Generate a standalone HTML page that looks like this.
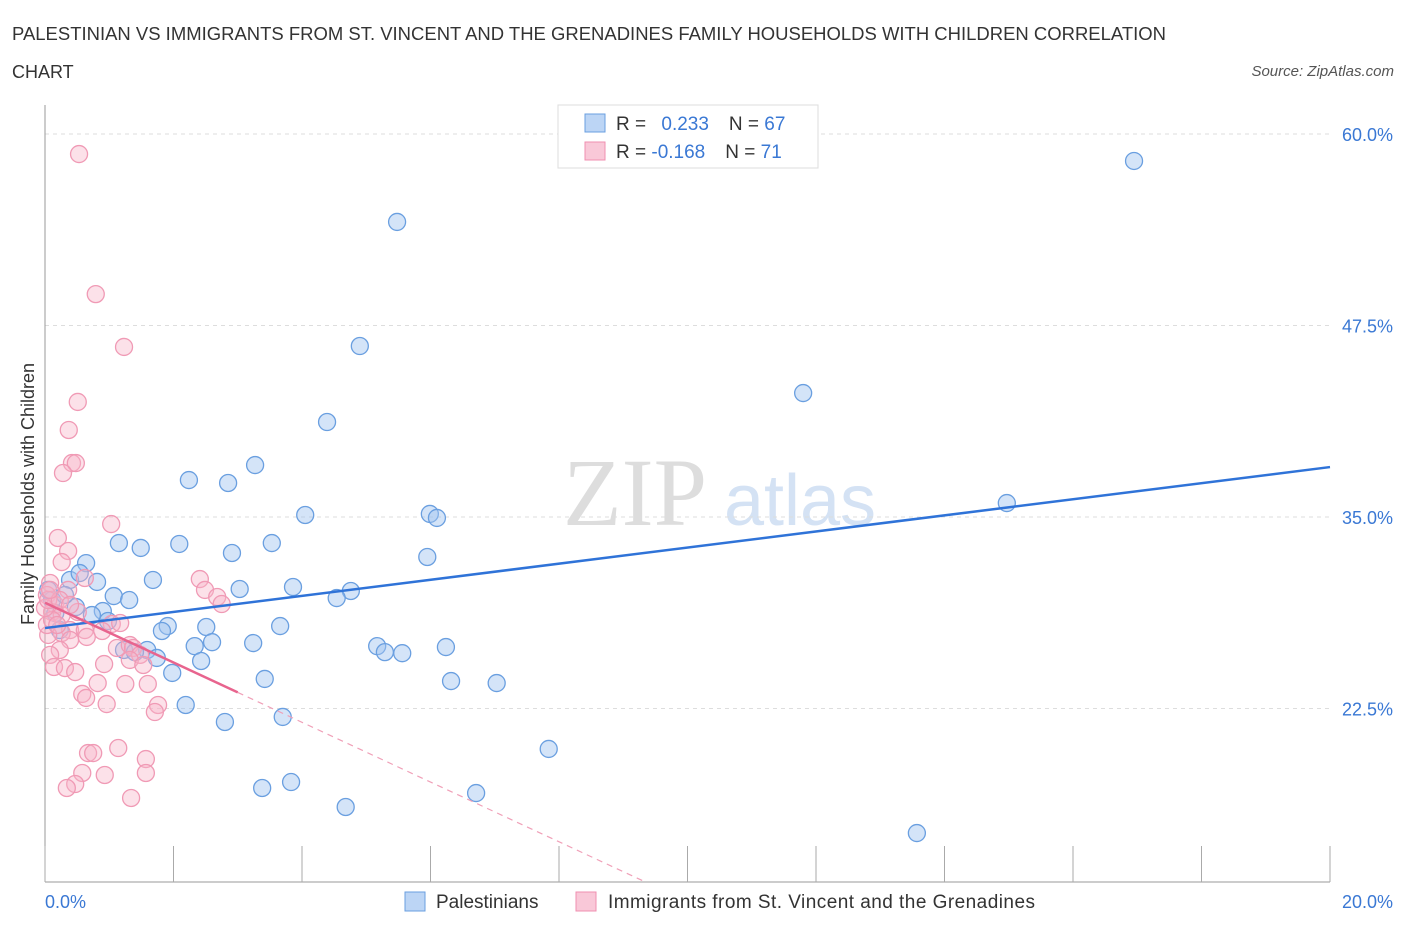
<!DOCTYPE html>
<html><head><meta charset="utf-8"><style>
body{margin:0;background:#fff;font-family:"Liberation Sans",sans-serif}
</style></head><body>
<svg id="c" width="1406" height="930" xmlns="http://www.w3.org/2000/svg" font-family="Liberation Sans, sans-serif">
<text x="12" y="40" font-size="18" fill="#333" textLength="1154" lengthAdjust="spacingAndGlyphs">PALESTINIAN VS IMMIGRANTS FROM ST. VINCENT AND THE GRENADINES FAMILY HOUSEHOLDS WITH CHILDREN CORRELATION</text>
<text x="12" y="78" font-size="18" fill="#333">CHART</text>
<text x="1394" y="76" font-size="15" fill="#555" font-style="italic" text-anchor="end">Source: ZipAtlas.com</text>
<text x="635" y="525" font-size="96" fill="#ddd" font-family="Liberation Serif, serif" text-anchor="middle">ZIP</text>
<text x="800" y="525" font-size="72" fill="#d4e2f4" text-anchor="middle">atlas</text>
<g id="grid"></g><g id="axes"></g><g id="pts"></g><g id="lines"></g>
<text transform="translate(34,494) rotate(-90)" font-size="18" fill="#333" text-anchor="middle">Family Households with Children</text>
<text x="45" y="908" font-size="18" fill="#3a78d4">0.0%</text>
<text x="1393" y="908" font-size="18" fill="#3a78d4" text-anchor="end">20.0%</text>
<g>
<rect x="558" y="105" width="260" height="63" fill="#fff" stroke="#ddd"/>
<rect x="585" y="114" width="20" height="18" fill="#bcd5f5" stroke="#6a9fe0"/>
<rect x="585" y="142" width="20" height="18" fill="#f9c8d8" stroke="#f08fb0"/>
<text x="616" y="130" font-size="19" fill="#333">R = <tspan fill="#3a78d4" dx="10">0.233</tspan><tspan dx="20" fill="#333">N = </tspan><tspan fill="#3a78d4">67</tspan></text>
<text x="616" y="158" font-size="19" fill="#333">R = <tspan fill="#3a78d4">-0.168</tspan><tspan dx="20" fill="#333">N = </tspan><tspan fill="#3a78d4"> 71</tspan></text>
</g>
<g>
<rect x="405" y="892" width="20" height="19" fill="#bcd5f5" stroke="#6a9fe0"/>
<text x="436" y="908" font-size="19" fill="#333">Palestinians</text>
<rect x="576" y="892" width="20" height="19" fill="#f9c8d8" stroke="#f08fb0"/>
<text x="608" y="908" font-size="19" fill="#333" textLength="427">Immigrants from St. Vincent and the Grenadines</text>
</g>
</svg>
<script>
const yTicks=[60,47.5,35,22.5];
const yTickLabels=["60.0%","47.5%","35.0%","22.5%"];
const xTicks=[0,2,4,6,8,10,12,14,16,18,20];
const blueX=[16.95,5.48,4.90,11.80,4.39,3.27,2.24,2.85,14.97,4.05,5.99,6.10,1.15,1.49,2.09,3.53,2.91,5.95,0.64,0.39,0.54,0.81,1.68,3.03,3.86,4.76,4.54,1.07,1.31,0.48,0.90,0.73,0.98,1.91,1.82,2.51,3.66,2.60,2.33,3.24,5.17,5.29,5.56,6.24,1.23,1.59,1.40,1.74,2.43,1.98,3.42,6.32,7.03,2.19,3.70,2.80,7.84,3.38,3.83,4.68,6.71,13.57,0.23,0.16,0.11,0.05,0.31];
const blueY=[58.24,54.26,46.16,43.09,41.20,38.39,37.41,37.22,35.91,35.13,35.20,34.94,33.30,32.98,33.24,33.30,32.65,32.39,31.99,30.89,31.34,30.76,30.89,30.30,30.43,30.17,29.71,29.84,29.58,29.12,28.86,28.60,28.21,27.88,27.56,27.82,27.88,26.83,26.57,26.77,26.57,26.18,26.11,26.51,26.32,26.32,26.18,25.80,25.60,24.82,24.43,24.29,24.16,22.73,21.95,21.62,19.86,17.31,17.70,16.07,16.98,14.37,27.62,28.73,29.58,30.24,29.91];
const pinkX=[0.53,0.79,1.23,0.51,0.37,0.42,0.48,0.28,1.03,0.20,0.36,0.26,0.08,0.62,2.41,0.03,0.16,2.49,0.36,2.68,2.75,0.11,0.26,0.51,1.04,1.17,0.39,0.62,0.26,0.05,0.89,0.65,0.39,1.12,1.32,1.37,0.23,0.08,1.48,1.32,1.53,0.92,0.14,0.31,0.47,0.82,1.25,1.60,0.58,0.64,0.96,1.76,1.71,0.67,0.75,1.14,1.57,0.58,0.93,1.57,0.47,0.34,1.34,0.03,0.11,0.19,0.0,0.05,0.23,0.08,0.39];
const pinkY=[58.69,49.55,46.10,42.51,40.68,38.52,38.52,37.87,34.54,33.63,32.78,32.06,30.69,31.02,30.95,29.91,29.26,30.24,30.24,29.78,29.32,28.80,28.60,28.80,28.02,28.08,27.62,27.62,27.43,27.30,27.56,27.17,26.97,26.45,26.64,26.45,26.32,26.00,26.00,25.67,25.34,25.40,25.21,25.14,24.88,24.16,24.10,24.10,23.45,23.19,22.79,22.73,22.27,19.59,19.59,19.92,19.20,18.29,18.16,18.29,17.57,17.31,16.66,27.95,28.28,27.95,29.06,29.58,29.58,30.24,29.26];
const blueTrend=[27.75,0.5255];
const pinkTrend=[29.4,-1.95,3.0];
const X0=45,X1=1330,YT=134,YB=882;
const sx=v=>X0+v/20*(X1-X0);
const sy=v=>YT+(60-v)*15.32;
const yMin=60-(YB-YT)/15.32;
const NS="http://www.w3.org/2000/svg";
function mk(p,t,a){const e=document.createElementNS(NS,t);for(const k in a)e.setAttribute(k,a[k]);p.appendChild(e);return e;}
const g=document.getElementById('grid'),ax=document.getElementById('axes'),pts=document.getElementById('pts'),ln=document.getElementById('lines');
yTicks.forEach((t,i)=>{
 const l=mk(g,'line',{x1:X0,x2:X1,y1:sy(t),y2:sy(t),stroke:'#ddd','stroke-dasharray':'4,4'});
 
 
 const tx=mk(g,'text',{x:1393,y:sy(t)+7,'font-size':18,fill:'#3a78d4','text-anchor':'end'});
 tx.textContent=yTickLabels[i];
 
 
});
const yax=mk(ax,'line',{x1:X0,x2:X0,y1:105,y2:YB,stroke:'#999'});


const xax=mk(ax,'line',{x1:X0,x2:X1,y1:YB,y2:YB,stroke:'#999'});


xTicks.forEach(t=>{
 const l=mk(ax,'line',{x1:sx(t),x2:sx(t),y1:YB-36,y2:YB,stroke:'#aaa'});
 
 
});
blueX.forEach((x,i)=>{
 const c=mk(pts,'circle',{cx:sx(x),cy:sy(blueY[i]),r:8.5,fill:'rgba(160,195,240,0.45)',stroke:'#6a9fe0','stroke-width':1.3});
 
 
});
pinkX.forEach((x,i)=>{
 const c=mk(pts,'circle',{cx:sx(x),cy:sy(pinkY[i]),r:8.5,fill:'rgba(248,180,200,0.4)',stroke:'#f09ab5','stroke-width':1.3});
 
 
});
const bl=mk(ln,'line',{x1:sx(0),y1:sy(blueTrend[0]),x2:sx(20),y2:sy(blueTrend[0]+20*blueTrend[1]),stroke:'#2f73d8','stroke-width':2.5});


const pe=pinkTrend[2],py=x=>pinkTrend[0]+pinkTrend[1]*x;
const pl=mk(ln,'line',{x1:sx(0),y1:sy(py(0)),x2:sx(pe),y2:sy(py(pe)),stroke:'#e8648e','stroke-width':2.5});


const xEnd=(yMin-pinkTrend[0])/pinkTrend[1];
const pd=mk(ln,'line',{x1:sx(pe),y1:sy(py(pe)),x2:sx(xEnd),y2:sy(yMin),stroke:'#f0a0b8','stroke-width':1.2,'stroke-dasharray':'6,5'});


</script>
</body></html>
